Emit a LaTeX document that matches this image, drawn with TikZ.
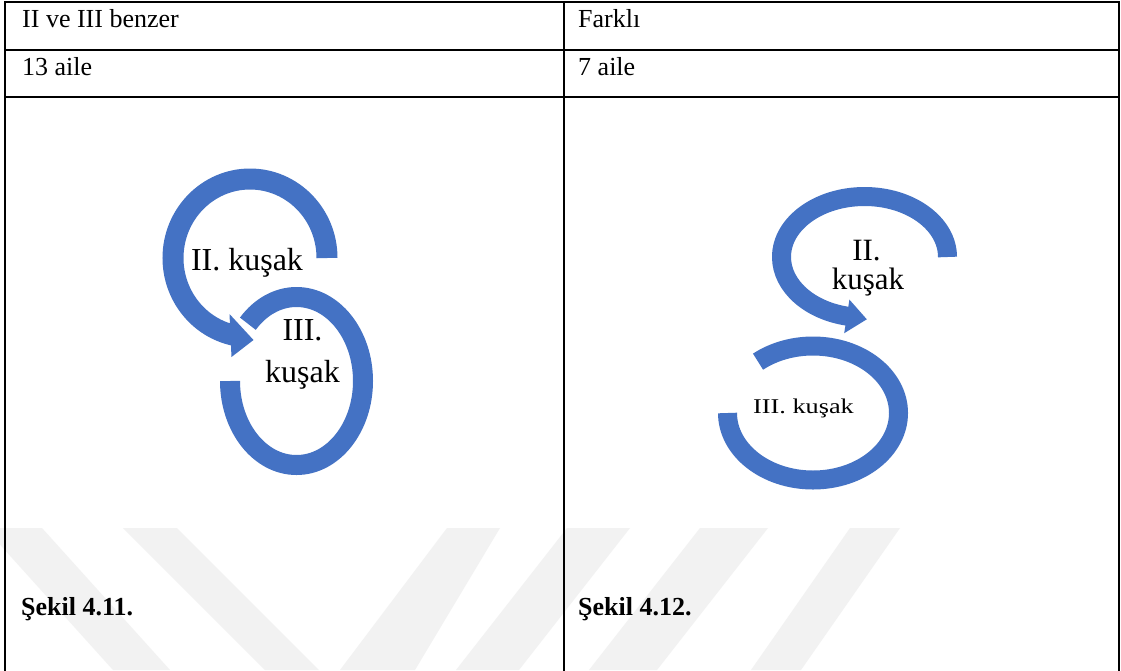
\documentclass[tikz,border=0pt]{standalone}
\usepackage{fontspec}
\setmainfont{Liberation Serif}
\definecolor{arcblue}{HTML}{4472C4}
\definecolor{wmgrey}{HTML}{F2F2F2}
\begin{document}
\begin{tikzpicture}[x=1pt,y=-1pt,
  tbl/.style={line width=2pt, line cap=rect},
  cell/.style={anchor=base west, inner sep=0pt, font=\fontsize{26}{30}\selectfont},
  capt/.style={anchor=base west, inner sep=0pt, font=\fontsize{26}{31}\selectfont\bfseries},
  lbl/.style={anchor=base, inner sep=0pt, font=\fontsize{32}{38}\selectfont},
  lblr/.style={anchor=base, inner sep=0pt, font=\fontsize{31}{36}\selectfont},
  band/.style={draw=arcblue, line width=21pt},
  headfill/.style={fill=arcblue, draw=none},
  wm/.style={fill=wmgrey, draw=none}]

\useasboundingbox (0,0) rectangle (1121,670);
\fill[white] (0,0) rectangle (1121,670);

% watermark stripes
\fill[wm] (-15,528) -- (42,528) -- (170,670) -- (113,670) -- cycle;
\fill[wm] (123,528) -- (177,528) -- (319,670) -- (265,670) -- cycle;
\fill[wm] (447,528) -- (500,528) -- (415,670) -- (340,670) -- cycle;
\fill[wm] (567,528) -- (630,528) -- (519,670) -- (456,670) -- cycle;
\fill[wm] (700,528) -- (768,528) -- (657,670) -- (589,670) -- cycle;
\fill[wm] (850,528) -- (900,528) -- (801,670) -- (751,670) -- cycle;

% table
\draw[tbl] (5,675) -- (5,2) -- (1119,2) -- (1119,675);
\draw[tbl] (564,2) -- (564,675);
\draw[tbl] (5,49.5) -- (1119,49.5);
\draw[tbl] (5,97) -- (1119,97);

\node[cell] (h1) at (22,27) {II ve III benzer};
\node[cell] (h2) at (578,27) {Farklı};
\node[cell] (n1) at (22,75) {13 aile};
\node[cell] (n2) at (578,75) {7 aile};
\node[capt] (c1) at (21,615) {Şekil 4.11.};
\node[capt] (c2) at (578,615) {Şekil 4.12.};

% left diagram
\draw[band, line width=20pt] (230,381) arc[start angle=180, end angle=-137, x radius=66.5, y radius=84];
\draw[band] (327,258) arc[start angle=0, end angle=-258.5, x radius=77, y radius=79];
\fill[headfill] (229.5,314) -- (253.5,340) -- (231.5,357) -- cycle;
\node[lbl] (l1) at (247,270) {II. kuşak};
\node[lbl] (l2) at (302.5,340) {III.};
\node[lbl] (l3) at (302.5,382) {kuşak};

% right diagram
\draw[band, line width=19pt] (727.5,413) arc[start angle=180, end angle=-130, x radius=85.5, y radius=67];
\draw[band, line width=19pt] (947.5,257) arc[start angle=0, end angle=-259, x radius=83, y radius=60.5];
\fill[headfill] (849.4,299.6) -- (866.8,319.3) -- (844.2,333.2) -- cycle;
\node[lblr] (r1) at (866.5,260) {II.};
\node[lblr] (r2) at (868,289) {kuşak};
\node[anchor=base, inner sep=0pt, font=\fontsize{21}{25}\selectfont] (r3) at (803.5,413) {\scalebox{1.25}[1]{III. kuşak}};
\end{tikzpicture}
\end{document}
